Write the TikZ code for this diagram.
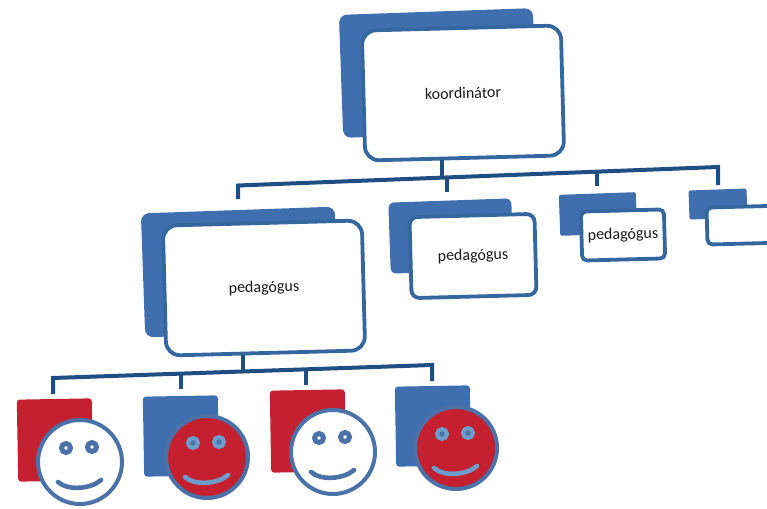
\documentclass[tikz,border=0pt]{standalone}
\usepackage{fontspec}
\setmainfont{Carlito}
\definecolor{backblue}{HTML}{3F6FAE}
\definecolor{edgeblue}{HTML}{35679F}
\definecolor{busblue}{HTML}{1F4F82}
\definecolor{facered}{HTML}{C4202F}
\definecolor{faceline}{HTML}{4A72A8}
\definecolor{softblue}{HTML}{6E9CCB}
\tikzset{
  backbox/.style={rectangle,fill=backblue,rounded corners=#1,rotate=2,inner sep=0pt},
  frontbox/.style={rectangle,fill=white,draw=edgeblue,line width=3.8pt,rounded corners=#1,rotate=1.5,inner sep=0pt,font=\fontsize{16}{18}\selectfont,text=black!90},
  bus/.style={draw=busblue,line width=4pt},
  redsq/.style={rectangle,fill=facered,rounded corners=3pt,rotate=1,minimum width=75pt,minimum height=82pt,inner sep=0pt},
  bluesq/.style={rectangle,fill=backblue,rounded corners=3pt,rotate=1,minimum width=75pt,minimum height=80pt,inner sep=0pt},
  facew/.style={circle,fill=white,draw=faceline,line width=4pt,minimum size=84pt,inner sep=0pt},
  facer/.style={circle,fill=facered,draw=faceline,line width=4pt,minimum size=82pt,inner sep=0pt},
  eyew/.style={circle,fill=white,draw=faceline,line width=5pt,minimum size=9pt,inner sep=0pt},
  eyer/.style={circle,fill=faceline,draw=softblue,line width=4pt,minimum size=10pt,inner sep=0pt},
  smilew/.style={draw=faceline,line width=4.6pt,line cap=round},
  smiler/.style={draw=softblue,line width=4.6pt,line cap=round},
}
\newcommand{\facefeatures}[3]{%
  \node[#2] (#1el) at ([shift={(-14,-14)}]#1.center) {};
  \node[#2] (#1er) at ([shift={(12,-15)}]#1.center) {};
  \coordinate (#1sl) at ([shift={(-22,20)}]#1.center);
  \coordinate (#1sr) at ([shift={(21,18)}]#1.center);
  \draw[#3] (#1sl) .. controls ([shift={(10,9)}]#1sl) and ([shift={(-10,9)}]#1sr) .. (#1sr);
}
\begin{document}
\begin{tikzpicture}[x=1pt,y=-1pt]
\useasboundingbox (0,0) rectangle (767,508);
\clip (0,0) rectangle (767,508);
% bus coordinates
\coordinate (t0) at (238,185.5);
\coordinate (t1) at (718,167);
\coordinate (tj) at (442,177.5);
\coordinate (tb) at (447,177.3);
\coordinate (tc) at (597,171.6);
\coordinate (s1) at (238,199);
\coordinate (s2) at (447,192);
\coordinate (s3) at (597,186);
\coordinate (s4) at (718,185);
\coordinate (b0) at (53,378);
\coordinate (b1) at (432,365);
\coordinate (bj) at (243,371.5);
\coordinate (bb) at (181,373.6);
\coordinate (bc) at (306,369.3);
\coordinate (c1) at (53,394);
\coordinate (c2) at (181,389);
\coordinate (c3) at (306,385);
\coordinate (c4) at (432,381);
% back boxes
\node[backbox=8pt,minimum width=194pt,minimum height=123pt] (kback) at (438,73) {};
\node[backbox=8pt,minimum width=194pt,minimum height=124pt] (p1back) at (240,272) {};
\node[backbox=5pt,minimum width=123pt,minimum height=71pt] (p2back) at (451,236) {};
\node[backbox=2pt,minimum width=77pt,minimum height=41pt] (p3back) at (598,214) {};
\node[backbox=2pt,minimum width=58pt,minimum height=29pt] (p4back) at (718,204) {};
% connectors
\draw[bus,line join=miter] (s1) -- (t0) -- (t1) -- (s4);
\draw[bus] (tb) -- (s2);
\draw[bus] (tc) -- (s3);
\draw[bus,line join=miter] (c1) -- (b0) -- (b1) -- (c4);
\draw[bus] (bb) -- (c2);
\draw[bus] (bc) -- (c3);
% front boxes
\node[frontbox=14pt,minimum width=199pt,minimum height=130pt] (koord) at (463,93) {koordinátor};
\node[frontbox=14pt,minimum width=199pt,minimum height=130pt] (p1) at (264,288) {pedagógus};
\node[frontbox=8pt,minimum width=125pt,minimum height=81pt] (p2) at (473,256) {pedagógus};
\node[frontbox=5pt,minimum width=83pt,minimum height=49pt] (p3) at (623,235) {pedagógus};
\node[frontbox=5pt,minimum width=82pt,minimum height=37pt] (p4) at (748,225) {};
\draw[bus] (koord.south -| tj) -- (tj);
\draw[bus] (p1.south -| bj) -- (bj);
% squares and faces
\node[redsq] (q1) at (55,440) {};
\node[bluesq] (q2) at (181,436) {};
\node[redsq] (q3) at (308,431) {};
\node[bluesq] (q4) at (433,426) {};
\node[facew] (f1) at (80,462) {};
\node[facer] (f2) at (207,457) {};
\node[facew] (f3) at (333,452) {};
\node[facer] (f4) at (456,448) {};
\facefeatures{f1}{eyew}{smilew}
\facefeatures{f2}{eyer}{smiler}
\facefeatures{f3}{eyew}{smilew}
\facefeatures{f4}{eyer}{smiler}
\end{tikzpicture}
\end{document}
